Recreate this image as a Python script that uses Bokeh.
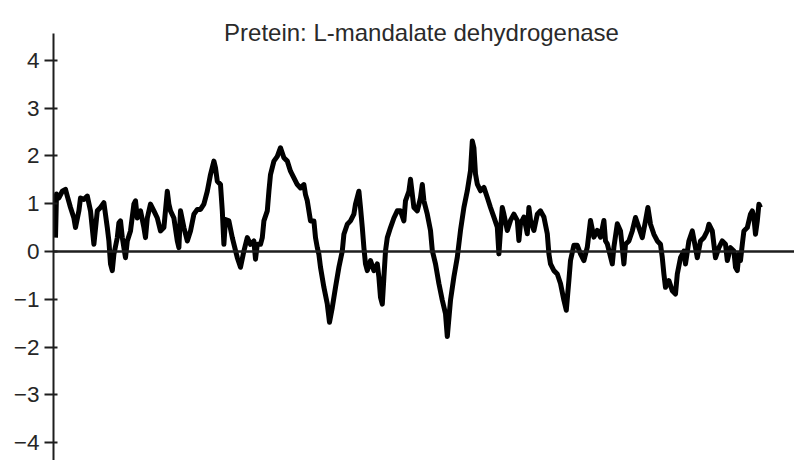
from bokeh.plotting import figure
from bokeh.models import Span, Label, FixedTicker, CustomJSTickFormatter, Range1d
from bokeh.embed import file_html
from bokeh.resources import INLINE

# Hydropathy profile (residue position, score)
residue = [1.0, 1.5, 2.7, 4.4, 6.0, 6.9, 8.5, 10.2, 11.0, 12.7, 13.5, 15.2, 16.9, 18.5, 20.2,
           21.9, 23.5, 25.2, 26.9, 27.7, 28.5, 29.4, 30.2, 31.9, 32.7, 33.5, 34.4, 36.0, 36.9,
           38.5, 40.2, 41.0, 41.9, 43.5, 45.2, 46.0, 46.9, 48.5, 50.2, 51.9, 53.5, 55.2, 56.9,
           57.7, 58.5, 60.2, 61.9, 62.7, 63.5, 65.2, 66.9, 68.5, 70.2, 71.9, 73.5, 75.2, 76.9,
           78.5, 80.2, 81.0, 81.9, 83.5, 84.4, 85.2, 86.0, 87.7, 89.4, 91.9, 93.5, 95.2, 96.9,
           98.5, 100.2, 101.0, 101.9, 103.5, 104.4, 105.2, 106.9, 107.7, 108.5, 110.2, 111.9,
           113.5, 115.2, 116.9, 118.5, 120.2, 121.9, 123.5, 125.2, 126.0, 126.9, 128.5, 130.2,
           131.0, 131.9, 132.7, 133.5, 135.2, 136.9, 138.0, 139.4, 141.0, 142.7, 144.4, 145.2,
           146.9, 148.5, 150.2, 151.0, 152.7, 153.5, 154.4, 155.2, 156.0, 156.9, 158.5, 160.2,
           161.9, 162.7, 163.5, 164.4, 165.2, 166.0, 166.9, 168.5, 170.2, 171.9, 173.5, 175.2,
           176.0, 177.7, 178.5, 180.2, 181.9, 183.5, 184.4, 185.2, 186.9, 188.5, 189.4, 191.0,
           192.7, 194.4, 196.0, 196.9, 198.5, 200.2, 201.9, 203.5, 205.2, 206.9, 208.5, 209.4,
           210.2, 211.0, 211.9, 213.5, 215.2, 216.9, 218.5, 220.2, 221.9, 222.7, 223.5, 224.4,
           225.2, 226.9, 228.5, 230.2, 231.9, 232.7, 233.5, 235.2, 236.9, 237.7, 238.5, 240.2,
           241.9, 243.5, 245.2, 246.9, 247.7, 248.5, 250.2, 251.9, 253.5, 255.2, 256.4, 257.7,
           258.5, 260.2, 261.9, 263.5, 265.2, 266.9, 268.5, 270.2, 271.9, 273.5, 275.2, 276.0,
           276.9, 279.4, 280.2, 281.9, 283.5, 284.4, 285.2, 286.0, 287.7, 289.4, 291.0, 292.7,
           294.4, 296.0, 297.2, 298.5, 300.2, 301.9, 303.5, 304.4, 305.2, 306.0, 307.7, 309.4,
           311.0, 311.9, 313.5, 315.2, 316.0, 317.7, 319.4, 321.0, 321.9, 323.5, 325.2, 326.9,
           327.7, 329.4, 331.0, 332.7, 334.4, 336.0, 336.9, 338.5, 340.2, 341.0, 341.9, 342.7,
           343.5, 344.4, 345.2, 346.9, 348.5, 349.4, 350.2, 351.0, 351.9, 352.7, 353.5]
score = [0.29, 1.2, 1.12, 1.26, 1.3, 1.16, 0.92, 0.7, 0.5, 0.85, 1.12, 1.09, 1.16, 0.85, 0.15,
         0.85, 0.92, 1.02, 0.5, 0.22, -0.26, -0.4, -0.06, 0.29, 0.6, 0.64, 0.29, -0.13, 0.22,
         0.43, 0.99, 1.06, 0.7, 0.85, 0.5, 0.29, 0.7, 0.99, 0.85, 0.7, 0.43, 0.5, 1.26,
         0.99, 0.85, 0.7, 0.22, 0.08, 0.85, 0.5, 0.22, 0.43, 0.78, 0.88, 0.88, 0.99, 1.26,
         1.61, 1.89, 1.75, 1.47, 1.4, 0.85, 0.15, 0.67, 0.64, 0.29, -0.13, -0.33, 0.01, 0.29,
         0.15, 0.22, -0.16, 0.15, 0.15, 0.29, 0.64, 0.85, 1.26, 1.61, 1.89, 1.99,
         2.17, 1.96, 1.89, 1.68, 1.54, 1.4, 1.33, 1.4, 1.19, 1.06, 0.64, 0.64,
         0.29, 0.08, -0.06, -0.33, -0.75, -1.1, -1.48, -1.17, -0.75, -0.33, 0.01, 0.36,
         0.57, 0.64, 0.78, 0.99, 1.26, 0.92, 0.5, 0.08, -0.26, -0.4, -0.19, -0.4,
         -0.26, -0.54, -0.96, -1.1, -0.54, 0.01, 0.29, 0.5, 0.7, 0.85, 0.85, 0.64,
         1.06, 1.26, 1.51, 0.92, 0.85, 1.12, 1.4, 1.06, 0.78, 0.44, 0.02, -0.26,
         -0.67, -1.02, -1.3, -1.78, -1.02, -0.53, -0.12, 0.44, 0.92, 1.27, 1.69, 2.31,
         2.17, 1.62, 1.41, 1.27, 1.34, 1.13, 0.92, 0.72, 0.51, -0.05, 0.44, 0.92,
         0.78, 0.44, 0.65, 0.78, 0.65, 0.23, 0.58, 0.72, 0.37, 0.92, 0.65, 0.44,
         0.78, 0.85, 0.72, 0.37, -0.05, -0.26, -0.4, -0.47, -0.67, -1.02, -1.23, -0.6,
         -0.19, 0.13, 0.13, -0.05, -0.19, 0.09, 0.65, 0.3, 0.44, 0.3, 0.65, 0.22,
         0.16, -0.26, 0.09, 0.58, 0.43, 0.08, -0.26, 0.15, 0.22, 0.43, 0.71, 0.5,
         0.29, 0.64, 0.92, 0.57, 0.36, 0.22, 0.15, -0.13, -0.47, -0.75, -0.61, -0.82,
         -0.89, -0.47, -0.13, 0.01, -0.26, 0.22, 0.43, 0.08, -0.13, 0.22, 0.29, 0.43,
         0.57, 0.43, -0.13, 0.08, 0.22, 0.15, -0.19, 0.08, 0.01, -0.33, -0.4, -0.06,
         -0.19, 0.15, 0.43, 0.5, 0.78, 0.85, 0.71, 0.36, 0.64, 0.99, 0.92]

y_ticks = [-4, -3, -2, -1, 0, 1, 2, 3, 4]
title_text = "Pretein: L-mandalate dehydrogenase"

FONT = "Liberation Sans"
INK = "#1e1e1e"

p = figure(width=794, height=460, output_backend="svg", toolbar_location=None,
           x_range=Range1d(0, 370.5), y_range=Range1d(-4.372, 5.25),
           min_border_left=53, min_border_right=0, min_border_top=0, min_border_bottom=0)
p.outline_line_color = None
p.xgrid.visible = False
p.ygrid.visible = False
p.xaxis.visible = False
p.background_fill_color = "white"
p.border_fill_color = "white"

yax = p.yaxis[0]
yax.bounds = (-4.372, 4.561)
yax.ticker = FixedTicker(ticks=y_ticks)
yax.formatter = CustomJSTickFormatter(code="return tick < 0 ? '\u2212' + Math.abs(tick) : tick.toString();")
yax.axis_line_width = 2
yax.axis_line_color = INK
yax.major_tick_line_width = 2
yax.major_tick_line_color = INK
yax.major_tick_in = 4
yax.major_tick_out = 9
yax.minor_tick_line_color = None
yax.major_label_standoff = 5
yax.major_label_text_font = FONT
yax.major_label_text_font_size = "22.5px"
yax.major_label_text_color = "#262626"

zero = Span(location=0, dimension="width", line_color=INK, line_width=2.5)
p.add_layout(zero)

p.line(residue, score, line_color="black", line_width=5, line_join="round")

title = Label(x=184, y=4.575, text=title_text, text_align="center", text_baseline="alphabetic",
              text_font=FONT, text_font_size="24px", text_color="#2a2a2a")
p.add_layout(title)

open("out.html", "w").write(file_html(p, INLINE))
